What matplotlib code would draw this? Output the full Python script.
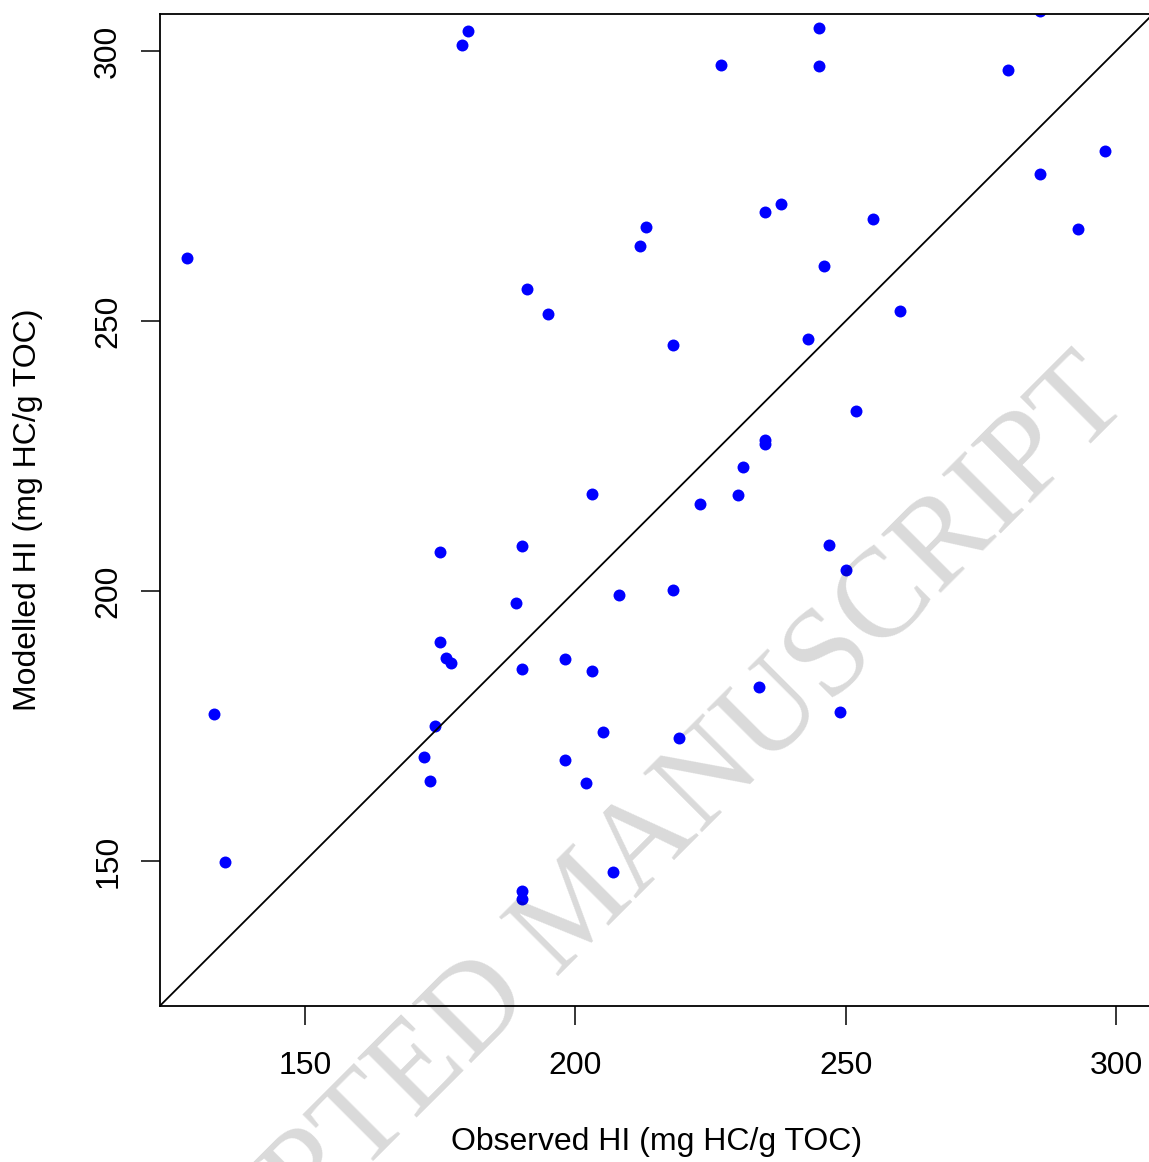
import numpy as np
import matplotlib
matplotlib.use("Agg")
import matplotlib.pyplot as plt

plt.rcParams['font.family'] = ['Liberation Sans', 'DejaVu Sans']

# observed vs modelled HI
observed = [128.2, 133.2, 135.2, 179.0, 180.1, 227.0, 245.0, 245.0, 285.9, 280.0,
            298.0, 285.9, 292.9, 255.0, 238.1, 235.1, 213.0, 212.0, 246.0, 191.1,
            194.9, 260.0, 218.1, 243.1, 252.0, 235.0, 235.0, 231.1, 203.1, 230.0,
            223.1, 175.0, 190.1, 247.0, 250.0, 189.1, 208.0, 218.0, 175.0, 176.1,
            177.1, 190.1, 198.1, 203.1, 234.0, 249.0, 174.1, 205.1, 219.1, 172.1,
            198.1, 173.1, 202.0, 207.0, 190.1, 190.1]
modelled = [261.6, 177.3, 149.8, 301.1, 303.7, 297.5, 304.3, 297.3, 307.5, 296.4,
            281.4, 277.2, 267.0, 268.8, 271.7, 270.1, 267.4, 263.8, 260.1, 256.0,
            251.3, 251.8, 245.6, 246.6, 233.4, 227.9, 227.2, 223.0, 217.9, 217.8,
            216.1, 207.2, 208.3, 208.5, 203.8, 197.8, 199.2, 200.1, 190.5, 187.5,
            186.6, 185.5, 187.4, 185.2, 182.2, 177.5, 175.0, 173.8, 172.7, 169.2,
            168.7, 164.9, 164.5, 148.0, 144.5, 143.0]

ticks = [150, 200, 250, 300]
tick_labels = ['150', '200', '250', '300']
lims = (130, 300)

fig = plt.figure(figsize=(11.49, 11.62), dpi=100)
ax = fig.add_axes([0.1393, 0.1345, 0.864, 0.8532])

ax.plot(observed, modelled, 'o', color='blue', ms=8.6, mew=0)
ax.axline((0, 0), (1, 1), color='black', lw=1.3)

# R style 4% padding
pad = 0.04 * (lims[1] - lims[0])
ax.set_xlim(lims[0] - pad, lims[1] + pad)
ax.set_ylim(lims[0] - pad, lims[1] + pad)

ax.set_xticks(ticks)
ax.set_xticklabels(tick_labels)
ax.set_yticks(ticks)
ax.set_yticklabels(tick_labels, rotation=90, va='center')
ax.tick_params(direction='out', length=13.5, width=1.1, labelsize=23)
ax.tick_params(axis='x', pad=19)
ax.tick_params(axis='y', pad=13)
for s in ax.spines.values():
    s.set_linewidth(1.3)

ax.set_xlabel('Observed HI (mg HC/g TOC)', fontsize=23, va='center')
ax.set_ylabel('Modelled HI (mg HC/g TOC)', fontsize=23, va='center')
ax.xaxis.set_label_coords(0.5, -0.1375)
ax.yaxis.set_label_coords(-0.133, 0.5)

fig.text(0.524, 0.198, 'ACCEPTED MANUSCRIPT', rotation=45, rotation_mode='anchor',
         ha='center', va='baseline', fontsize=91, family='Liberation Serif',
         color='black', alpha=0.15, zorder=10)

fig.savefig('out.png', dpi=100)
